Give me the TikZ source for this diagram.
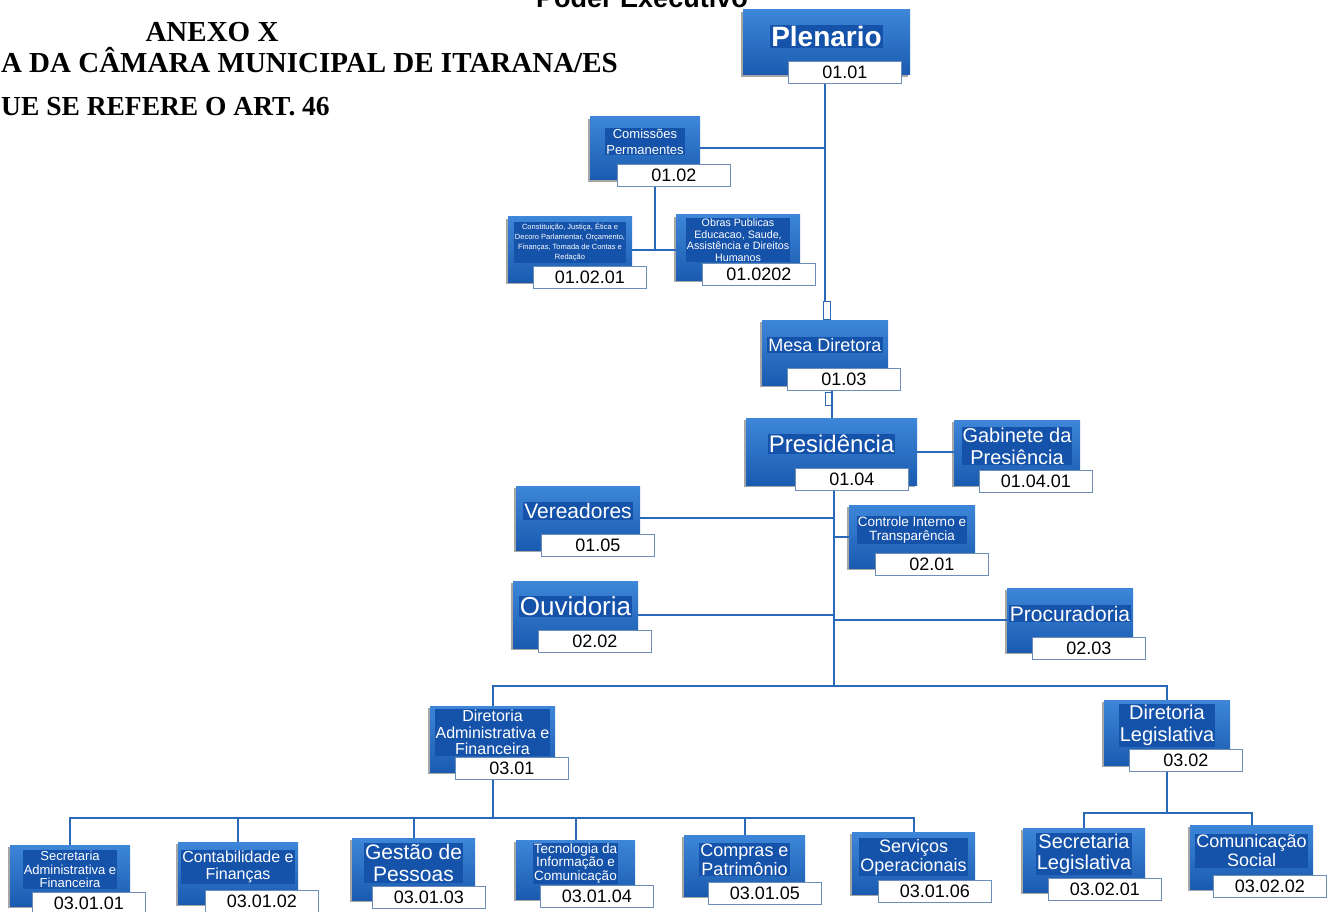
\documentclass[tikz,border=0pt]{standalone}
\usepackage{fontspec}
\setmainfont{Liberation Serif}
\setsansfont{Liberation Sans}
\usetikzlibrary{shadows}
\definecolor{boxtop}{HTML}{3D86D8}
\definecolor{boxbot}{HTML}{1A5BB0}
\definecolor{hl}{HTML}{1552AA}
\definecolor{lnc}{HTML}{2A68B8}
\definecolor{lbd}{HTML}{6C8DB8}
\newcommand\fs[2]{\fontsize{#1}{#2}\selectfont}
\newcommand\orgunit[9]{%
  \node[bluebox, minimum width={#4-#2}, minimum height={#5-#3}] (#1) at ({(#2+#4)/2},{(#3+#5)/2}) {};
  \node[codebox, anchor=north west] (#1-c) at (#6,#7) {#8};
  \def\curname{#1}%
  \pgfmathsetmacro\curx{(#2+#4)/2}%
  \pgfmathsetmacro\cury{(#3+#7)/2+1}%
  \def\curfont{#9}%
  \orgtextaux
}
\newcommand\orgtextaux[1]{%
  \node[unittext, font=\sffamily\curfont] (\curname-t) at (\curx,\cury) {#1};%
}
\tikzset{
  bluebox/.style={rectangle, inner sep=0pt, outer sep=0pt, top color=boxtop, bottom color=boxbot, draw=none,
    drop shadow={shadow xshift=-2pt, shadow yshift=-2pt, fill=black, opacity=0.35}},
  codebox/.style={rectangle, fill=white, draw=lbd, line width=0.9pt, minimum width=113pt, minimum height=22pt,
    inner sep=0pt, font=\sffamily\fs{18}{18}, text=black},
  unittext/.style={text=white, align=center, fill=hl, inner sep=1pt},
  conn/.style={draw=lnc, line width=2pt},
  titletext/.style={font=\rmfamily\bfseries\fs{29}{30}, text=black, inner sep=0pt}
}
\begin{document}
\begin{tikzpicture}[x=1pt, y=-1pt]
\useasboundingbox (0,0) rectangle (1328,912);
\clip (0,0) rectangle (1328,912);
\fill[white] (0,0) rectangle (1328,912);

% titles
\node[titletext, anchor=base] (anx) at (212,42) {ANEXO X};
\node[titletext, anchor=base east] (tl2) at (618,73) {A DA CÂMARA MUNICIPAL DE ITARANA/ES};
\node[titletext, font=\rmfamily\bfseries\fs{27.5}{30}, anchor=base west] (tl3) at (1,116) {UE SE REFERE O ART. 46};
\node[font=\sffamily\bfseries\fs{27}{27}, anchor=base, inner sep=0pt] (pe) at (642,8) {Poder Executivo};

% junction coordinates
\coordinate (jc) at (655,250);
\coordinate (tb) at (834,686);
\coordinate (ba) at (493,818);
\coordinate (bl) at (1167,813);

% units
\orgunit{plen}{743}{10}{910}{75}{788}{61}{01.01}{\fs{28}{30}\bfseries}{Plenario}
\orgunit{com}{590}{117}{700}{180}{617}{164}{01.02}{\fs{13}{16}}{Comissões\\Permanentes}
\orgunit{ca}{508}{217}{632}{282}{533}{266}{01.02.01}{\fs{7.5}{10}}{Constituição, Justiça, Ética e\\Decoro Parlamentar, Orçamento,\\Finanças, Tomada de Contas e\\Redação}
\orgunit{cb}{676}{215}{800}{280}{702}{263}{01.0202}{\fs{10.7}{11.5}}{Obras Publicas\\Educacao, Saude,\\Assistência e Direitos\\Humanos}
\orgunit{mesa}{762}{320}{888}{385}{787}{368}{01.03}{\fs{18}{20}}{Mesa Diretora}
\orgunit{pres}{746}{418}{917}{485}{795}{468}{01.04}{\fs{24}{26}}{Presidência}
\orgunit{gab}{954}{420}{1080}{485}{979}{470}{01.04.01}{\fs{20}{22}}{Gabinete da\\Presiência}
\orgunit{ver}{516}{486}{640}{550}{541}{534}{01.05}{\fs{21}{23}}{Vereadores}
\orgunit{ctrl}{849}{505}{975}{568}{875}{553}{02.01}{\fs{13.5}{14}}{Controle Interno e\\Transparência}
\orgunit{ouv}{513}{581}{638}{648}{538}{630}{02.02}{\fs{26}{28}}{Ouvidoria}
\orgunit{proc}{1007}{588}{1133}{652}{1032}{637}{02.03}{\fs{21}{22}}{Procuradoria}
\orgunit{dadm}{430}{706}{555}{772}{455}{757}{03.01}{\fs{16}{16.5}}{Diretoria\\Administrativa e\\Financeira}
\orgunit{dleg}{1104}{700}{1230}{765}{1129}{749}{03.02}{\fs{20}{22}}{Diretoria\\Legislativa}
\orgunit{ba1}{10}{845}{130}{906}{32}{892}{03.01.01}{\fs{13}{13.5}}{Secretaria\\Administrativa e\\Financeira}
\orgunit{ba2}{178}{842}{298}{904}{205}{890}{03.01.02}{\fs{16}{17}}{Contabilidade e\\Finanças}
\orgunit{ba3}{352}{838}{475}{900}{372}{886}{03.01.03}{\fs{21}{22}}{Gestão de\\Pessoas}
\orgunit{ba4}{516}{840}{635}{899}{540}{885}{03.01.04}{\fs{13.5}{13.5}}{Tecnologia da\\Informação e\\Comunicação}
\orgunit{ba5}{684}{835}{805}{896}{708}{882}{03.01.05}{\fs{18}{19}}{Compras e\\Patrimônio}
\orgunit{ba6}{852}{832}{975}{894}{878}{880}{03.01.06}{\fs{18}{19}}{Serviços\\Operacionais}
\orgunit{bb1}{1023}{828}{1145}{892}{1048}{878}{03.02.01}{\fs{20}{21}}{Secretaria\\Legislativa}
\orgunit{bb2}{1190}{825}{1313}{889}{1213}{875}{03.02.02}{\fs{18}{19}}{Comunicação\\Social}

% connectors
\path[conn] (plen-c.south -| mesa.north) -- (mesa.north);
\path[conn] (com.east) -- (com.east -| mesa.north);
\path[conn] (com-c.south -| jc) -- (jc);
\path[conn] (ca.east |- jc) -- (cb.west |- jc);
\path[conn] (mesa-c.south -| pres.north) -- (pres.north);
\path[conn] (pres.east) -- (pres.east -| gab.west);
\path[conn] (pres-c.south -| tb) -- (tb);
\path[conn] (ver.east) -- (ver.east -| tb);
\path[conn] (ctrl.west) -- (ctrl.west -| tb);
\path[conn] (ouv.east) -- (ouv.east -| tb);
\path[conn] (proc.west) -- (proc.west -| tb);
\path[conn] (dadm.north) -- (dadm.north |- tb) -- (dleg.north |- tb) -- (dleg.north);
\path[conn] (dadm-c.south -| ba) -- (ba);
\path[conn] (ba1.north) -- (ba1.north |- ba) -- (ba6.north |- ba) -- (ba6.north);
\foreach \b in {ba2,ba3,ba4,ba5} \path[conn] (\b.north |- ba) -- (\b.north);
\path[conn] (dleg-c.south -| bl) -- (bl);
\path[conn] (bb1.north) -- (bb1.north |- bl) -- (bb2.north |- bl) -- (bb2.north);
% doubled line artefacts
\draw[lnc, line width=1pt, fill=white] (823,301) rectangle (830,319);
\draw[lnc, line width=1pt, fill=white] (825,392) rectangle (831,405);
\end{tikzpicture}
\end{document}
